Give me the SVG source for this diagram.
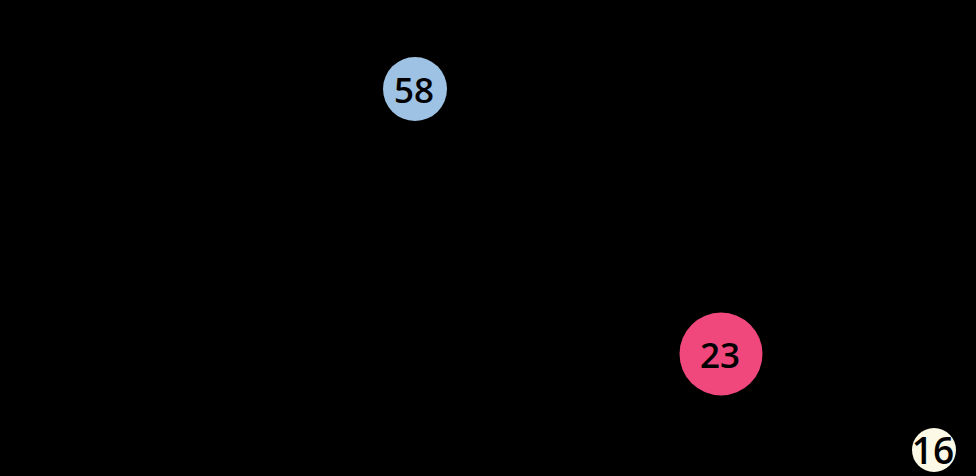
<svg xmlns="http://www.w3.org/2000/svg" width="976" height="476" viewBox="0 0 976 476">
<style>
.lbl{font-family:"Open Sans","DejaVu Sans",sans-serif;font-weight:600;fill:#000;text-anchor:middle}
</style>
<rect width="976" height="476" fill="#000"/>
<g id="connectors"></g>
<g id="node-58">
<circle cx="415" cy="89" r="32" fill="#9ec2e4"/>
<text class="lbl" x="414" y="102.5" font-size="35">58</text>
</g>
<g id="node-23">
<circle cx="721" cy="354" r="41.5" fill="#f0477d"/>
<text class="lbl" x="720" y="367.5" font-size="35">23</text>
</g>
<g id="node-16">
<circle cx="934" cy="450" r="22" fill="#fcfae6"/>
<text class="lbl" x="933" y="463.5" font-size="37">16</text>
</g>
</svg>
